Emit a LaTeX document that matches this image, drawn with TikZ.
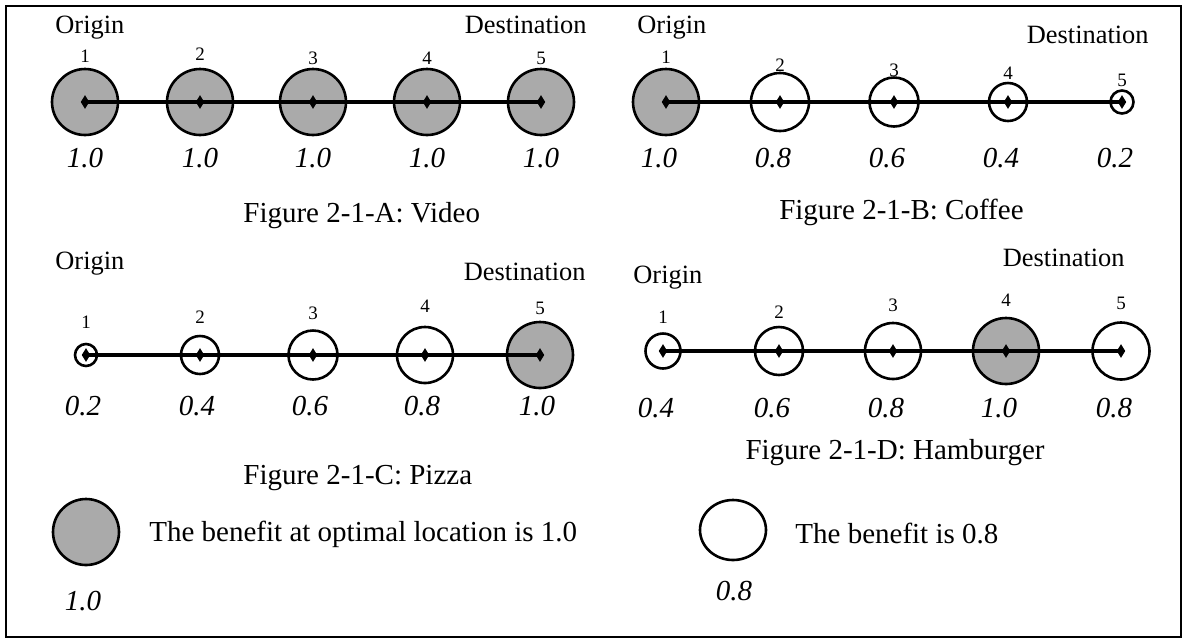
\documentclass[tikz,border=0pt]{standalone}
\usepackage{fontspec}
\setmainfont{Liberation Serif}
\usetikzlibrary{shapes.geometric}
\definecolor{benefitgray}{RGB}{170,170,170}
\begin{document}
\begin{tikzpicture}[x=0.5pt,y=-0.5pt,
  site/.style={circle, draw=black, line width=1.3pt, inner sep=0pt, minimum size=#1pt},
  pin/.style={diamond, fill=black, inner sep=0pt, minimum width=4.4pt, minimum height=7pt},
  road/.style={line width=1.7pt},
  idx/.style={font=\fontsize{9.5}{11}\selectfont, anchor=center, inner sep=0pt},
  val/.style={font=\fontsize{14.5}{16}\selectfont\itshape, anchor=base, inner sep=0pt},
  endlabel/.style={font=\fontsize{13.2}{15}\selectfont, inner sep=0pt},
  caption/.style={font=\fontsize{14.5}{16}\selectfont, inner sep=0pt},
]
\useasboundingbox (0,0) rectangle (1184,639);
\draw[line width=0.8pt] (6,6) rectangle (1181,637);

% ---- Figure 2-1-A: Video ----
\foreach \i/\x/\r/\c/\ny/\v in {1/85/33/benefitgray/56/1.0, 2/200/33/benefitgray/54/1.0,
    3/313/33/benefitgray/58/1.0, 4/427/33/benefitgray/58/1.0, 5/541/33/benefitgray/58/1.0}{
  \node[site=\r, fill=\c] (A\i) at (\x,102) {};
  \node[idx] (An\i) at (\x,\ny) {\i};
  \node[val] (Av\i) at (\x,167) {\v};
}
\draw[road] (A1.center) -- (A2.center) -- (A3.center) -- (A4.center) -- (A5.center);
\foreach \i in {1,...,5} \node[pin] (Ap\i) at (A\i.center) {};
\node[endlabel, anchor=base west] (Aorig) at (55,33) {Origin};
\node[endlabel, anchor=base east] (Adest) at (587,33) {Destination};
\node[caption, anchor=base west] (Acap) at (243,222) {Figure 2-1-A: Video};

% ---- Figure 2-1-B: Coffee ----
\foreach \i/\x/\r/\c/\ny/\v in {1/666/33/benefitgray/57/1.0, 2/780/29/white/65/0.8,
    3/894/24.5/white/70/0.6, 4/1008/19/white/73/0.4, 5/1122/11.5/white/80/0.2}{
  \node[site=\r, fill=\c] (B\i) at (\x,102) {};
  \node[idx] (Bn\i) at (\x,\ny) {\i};
  \node[val] (Bv\i) at (\x-7,167) {\v};
}
\draw[road] (B1.center) -- (B2.center) -- (B3.center) -- (B4.center) -- (B5.center);
\foreach \i in {1,...,5} \node[pin] (Bp\i) at (B\i.center) {};
\node[endlabel, anchor=base west] (Borig) at (637,33) {Origin};
\node[endlabel, anchor=base east] (Bdest) at (1149,43) {Destination};
\node[caption, anchor=base east] (Bcap) at (1024,219) {Figure 2-1-B: Coffee};

% ---- Figure 2-1-C: Pizza ----
\foreach \i/\x/\r/\c/\ny/\v in {1/86/11/white/322/0.2, 2/200/19/white/317/0.4,
    3/313/24.5/white/313/0.6, 4/425/28/white/306/0.8, 5/540/33/benefitgray/308/1.0}{
  \node[site=\r, fill=\c] (C\i) at (\x,355) {};
  \node[idx] (Cn\i) at (\x,\ny) {\i};
  \node[val] (Cv\i) at (\x-3,415) {\v};
}
\draw[road] (C1.center) -- (C2.center) -- (C3.center) -- (C4.center) -- (C5.center);
\foreach \i in {1,...,5} \node[pin] (Cp\i) at (C\i.center) {};
\node[endlabel, anchor=base west] (Corig) at (55,269) {Origin};
\node[endlabel, anchor=base east] (Cdest) at (586,280) {Destination};
\node[caption, anchor=base west] (Ccap) at (243,484) {Figure 2-1-C: Pizza};

% ---- Figure 2-1-D: Hamburger ----
\foreach \i/\x/\r/\c/\ny/\v in {1/663/17.5/white/317/0.4, 2/779/24/white/312/0.6,
    3/893/28/white/305/0.8, 4/1006/33/benefitgray/300/1.0, 5/1121/28.5/white/303/0.8}{
  \node[site=\r, fill=\c] (D\i) at (\x,351) {};
  \node[idx] (Dn\i) at (\x,\ny) {\i};
  \node[val] (Dv\i) at (\x-7,417) {\v};
}
\draw[road] (D1.center) -- (D2.center) -- (D3.center) -- (D4.center) -- (D5.center);
\foreach \i in {1,...,5} \node[pin] (Dp\i) at (D\i.center) {};
\node[endlabel, anchor=base west] (Dorig) at (633,283) {Origin};
\node[endlabel, anchor=base east] (Ddest) at (1125,266) {Destination};
\node[caption, anchor=base east] (Dcap) at (1045,459) {Figure 2-1-D: Hamburger};

% ---- Legend ----
\node[site=33, fill=benefitgray] (Lbest) at (86,532) {};
\node[caption, anchor=base west] (Lbesttxt) at (149,541) {The benefit at optimal location is 1.0};
\node[val] (Lbestval) at (83,610) {1.0};
\node[ellipse, draw=black, line width=1.3pt, inner sep=0pt, minimum width=33pt, minimum height=30pt] (Lplain) at (733,530) {};
\node[caption, anchor=base west] (Lplaintxt) at (795,543) {The benefit is 0.8};
\node[val] (Lplainval) at (734,600) {0.8};
\end{tikzpicture}
\end{document}
